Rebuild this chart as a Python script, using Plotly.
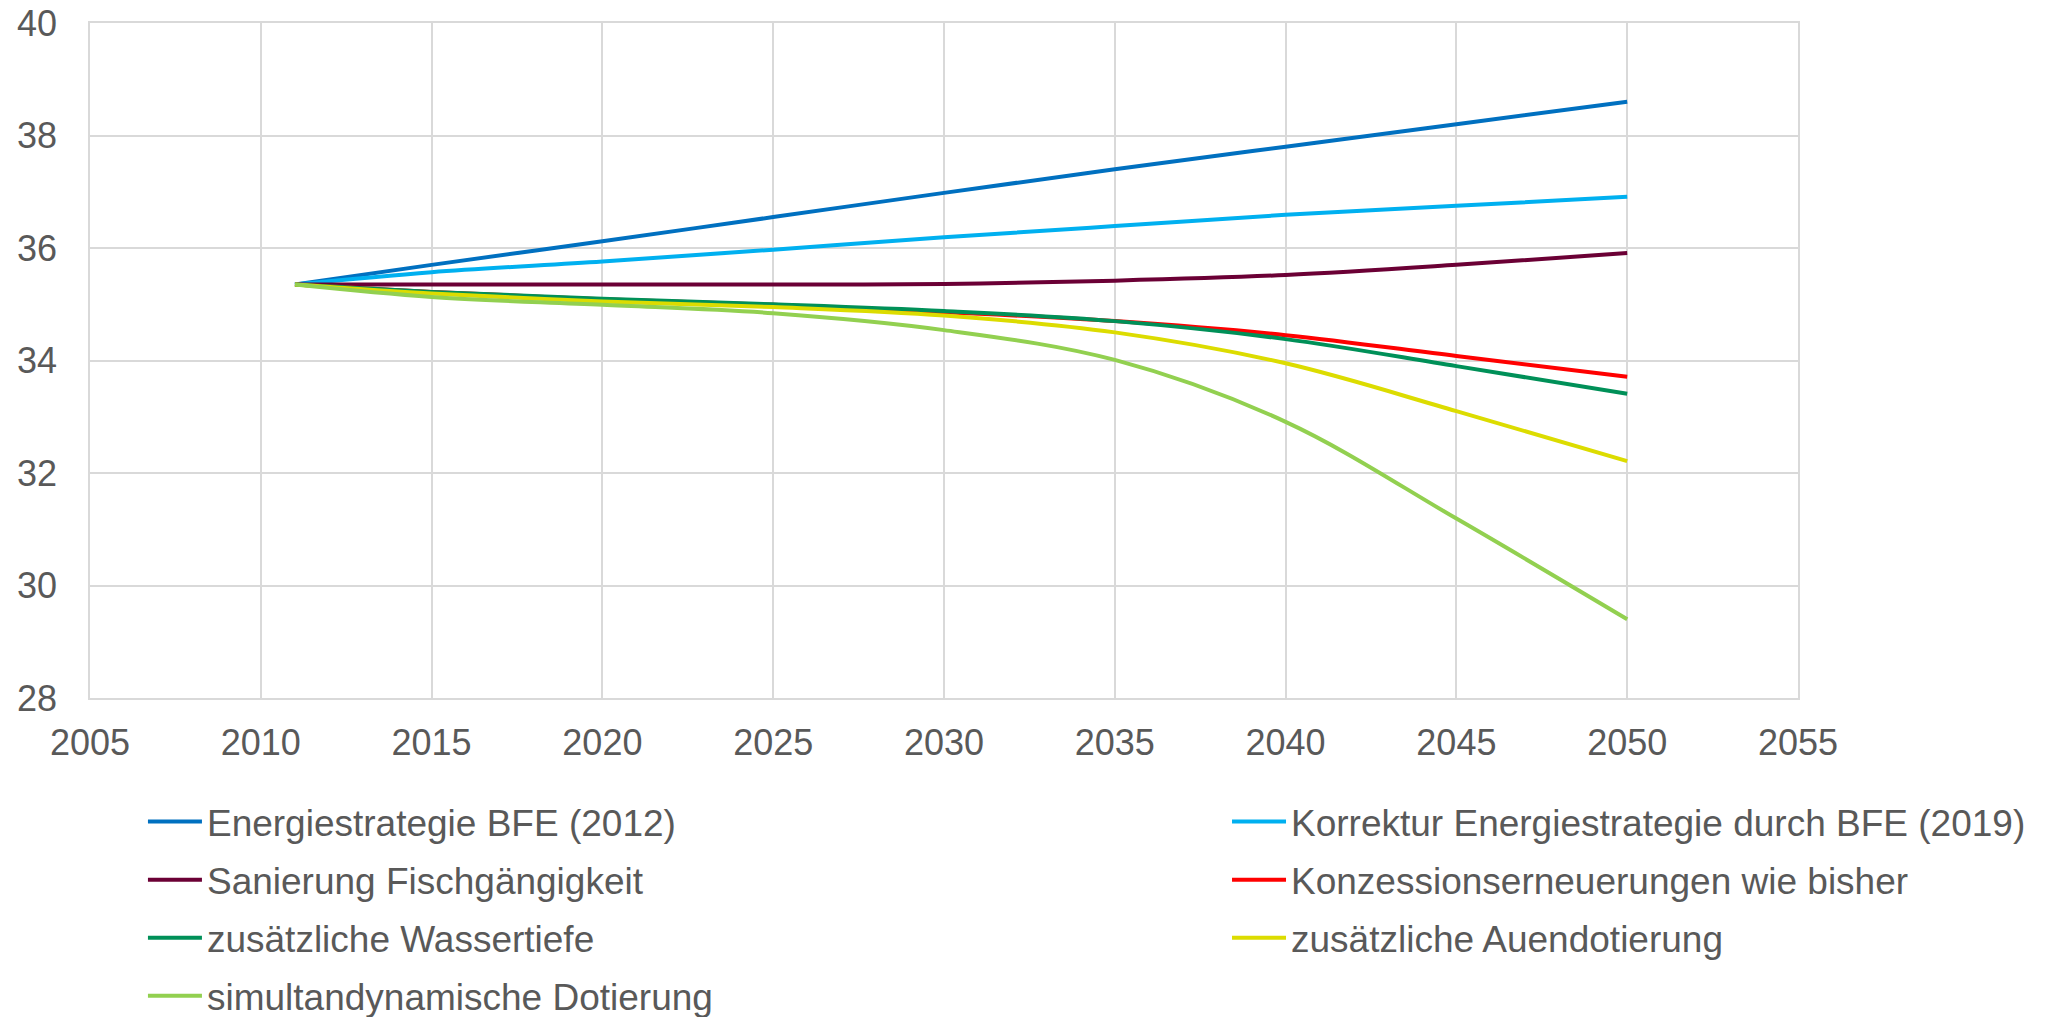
import plotly.graph_objects as go

years = [2011, 2015, 2020, 2025, 2030, 2035, 2040, 2045, 2050]

energiestrategie_2012 = [35.35, 35.70, 36.12, 36.55, 36.98, 37.40, 37.80, 38.20, 38.60]
korrektur_2019 = [35.35, 35.57, 35.76, 35.97, 36.19, 36.39, 36.59, 36.75, 36.91]
sanierung_fisch = [35.35, 35.35, 35.35, 35.35, 35.36, 35.42, 35.52, 35.70, 35.91]
konzession_bisher = [35.35, 35.22, 35.09, 34.99, 34.86, 34.70, 34.45, 34.08, 33.71]
wassertiefe = [35.35, 35.22, 35.10, 35.00, 34.88, 34.70, 34.38, 33.90, 33.41]
auendotierung = [35.35, 35.19, 35.05, 34.95, 34.80, 34.50, 33.95, 33.10, 32.21]
simultandynamisch = [35.35, 35.13, 34.99, 34.84, 34.54, 34.01, 32.91, 31.19, 29.40]

series = [
    ("Energiestrategie BFE (2012)", energiestrategie_2012, "#0070C0", "legend"),
    ("Korrektur Energiestrategie durch BFE (2019)", korrektur_2019, "#00B0F0", "legend2"),
    ("Sanierung Fischgängigkeit", sanierung_fisch, "#6B0035", "legend"),
    ("Konzessionserneuerungen wie bisher", konzession_bisher, "#FF0000", "legend2"),
    ("zusätzliche Wassertiefe", wassertiefe, "#009058", "legend"),
    ("zusätzliche Auendotierung", auendotierung, "#DCDC00", "legend2"),
    ("simultandynamische Dotierung", simultandynamisch, "#92D050", "legend"),
]

x_ticks = [2005, 2010, 2015, 2020, 2025, 2030, 2035, 2040, 2045, 2050, 2055]
y_ticks = [28, 30, 32, 34, 36, 38, 40]

FONT = "Liberation Sans, Arial, sans-serif"
TXT = "#595959"
GRID = "#D9D9D9"

fig = go.Figure()
for i, (name, vals, color, lg) in enumerate(series):
    fig.add_trace(go.Scatter(
        x=years, y=vals, name=name, mode="lines",
        line=dict(color=color, width=4, shape="spline", smoothing=1.0),
        legend=lg, legendgroup=f"g{i}",
    ))

legend_common = dict(
    orientation="v", yanchor="top", xanchor="left",
    font=dict(family=FONT, size=37, color=TXT),
    bgcolor="rgba(0,0,0,0)", borderwidth=0,
    itemwidth=54, tracegroupgap=7, itemclick=False, itemdoubleclick=False,
)

fig.update_layout(
    width=2049, height=1017,
    margin=dict(l=90, r=251, t=23, b=319, autoexpand=False),
    paper_bgcolor="white", plot_bgcolor="white",
    showlegend=True,
    legend=dict(x=0.031, y=-0.1378, **legend_common),
    legend2=dict(x=0.6657, y=-0.1378, **legend_common),
    xaxis=dict(
        range=[2005, 2055], tickvals=x_ticks, ticktext=[str(v) for v in x_ticks],
        showgrid=True, gridcolor=GRID, gridwidth=1.5,
        showline=True, linecolor=GRID, linewidth=1.5, mirror=True,
        zeroline=False, ticks="", ticklabelstandoff=12,
        tickfont=dict(family=FONT, size=36, color=TXT),
    ),
    yaxis=dict(
        range=[28, 40], tickvals=y_ticks, ticktext=[str(v) for v in y_ticks],
        showgrid=True, gridcolor=GRID, gridwidth=1.5,
        showline=True, linecolor=GRID, linewidth=1.5, mirror=True,
        zeroline=False, ticks="", ticklabelstandoff=24,
        tickfont=dict(family=FONT, size=36, color=TXT),
    ),
)

fig.write_html("out.html")
